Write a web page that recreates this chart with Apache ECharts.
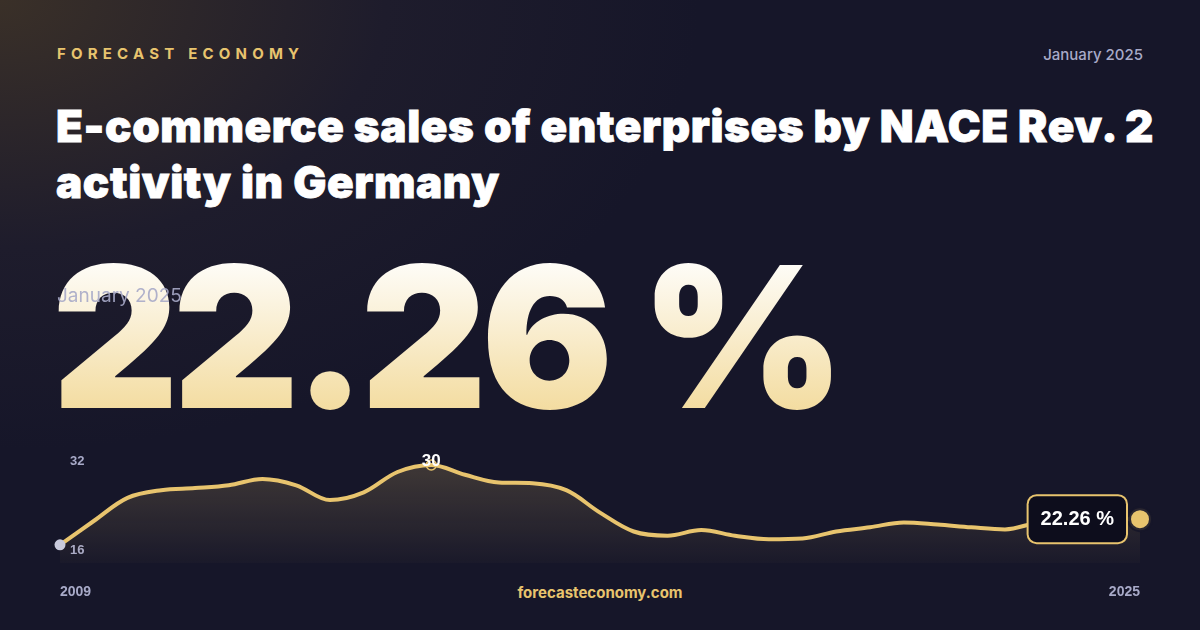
<!doctype html>
<html>
<head>
<meta charset="utf-8">
<title>E-commerce sales Germany</title>
<script src="https://cdn.jsdelivr.net/npm/echarts@6/dist/echarts.min.js"></script>
<style>
    html, body { margin: 0; width: 1200px; height: 630px; overflow: hidden; }
    body {
        font-family: Inter, "Noto Sans", sans-serif;
        background: radial-gradient(ellipse 700px 450px at 0 0, #3a3028 0%, #1e1c2c 55%, #161629 100%), #161629;
        background-color: #161629;
        position: relative;
    }
    .brand { position: absolute; left: 57px; top: 44px; color: #e8c46e; font-size: 15px; font-weight: 700; letter-spacing: 5.2px; }
    .date { position: absolute; right: 57px; top: 45px; color: #a8aac8; font-size: 15px; font-weight: 500; }
    .title { position: absolute; left: 56px; top: 98px; width: 1140px; color: #fff; font-size: 44px; font-weight: 900; line-height: 56px; letter-spacing: 0.6px; -webkit-text-stroke: 0.8px #fff; }
    .big { position: absolute; left: 52px; top: 222px; font-size: 196px; font-weight: 900; letter-spacing: -6px; line-height: 230px;
        background: linear-gradient(180deg, #ffffff 12%, #f3dca0 82%); -webkit-background-clip: text; background-clip: text; color: transparent; }
    .big span { -webkit-text-stroke: 6px #f7e8c0; }
    .sub { position: absolute; left: 57px; top: 284px; color: #a8aac8; font-size: 19px; opacity: 0.9; }
    .site { position: absolute; left: 0; width: 1200px; top: 583px; text-align: center; color: #e8c46e; font-size: 15px; font-weight: 700; }
    #chart { position: absolute; left: 0; top: 0; width: 1200px; height: 630px; }
</style>
</head>
<body>
<div class="brand">FORECAST ECONOMY</div>
<div class="date">January 2025</div>
<div class="title">E-commerce sales of enterprises by NACE Rev. 2 activity in Germany</div>
<div class="big">22.26 %</div>
<div class="sub">January 2025</div>
<div class="site">forecasteconomy.com</div>
<div id="chart"></div>
<script>
    // periods (half-yearly steps 2009 .. 2025)
    var periods = [];
    for (var y = 2009; y <= 2025; y++) { periods.push(y + ' H1'); if (y < 2025) periods.push(y + ' H2'); }
    var values = [18.6, 22.0, 25.3, 26.4, 26.7, 27.1, 28.0, 27.1, 25.0, 26.1, 29.0, 30.0, 28.6, 27.5, 27.4, 26.4,
        23.2, 20.5, 19.9, 20.7, 19.9, 19.4, 19.5, 20.5, 21.1, 21.8, 21.5, 21.1, 20.8, 21.8, 22.1, 22.3, 22.26];
    var yTicks = [16, 32];
    var xLabels = ['2009', '2025'];

    var chart = echarts.init(document.getElementById('chart'), null, {renderer: 'canvas'});
    var last = values.length - 1;
    var maxIdx = values.indexOf(Math.max.apply(null, values));
    var gold = '#e8c46e';

    chart.setOption({
        animation: false,
        grid: {left: 60, right: 60, top: 451, bottom: 67},
        xAxis: {
            type: 'category', data: periods, boundaryGap: false,
            axisLine: {show: false}, axisTick: {show: false}, splitLine: {show: false},
            axisLabel: {
                interval: 0, margin: 22, color: '#a8aac8', fontSize: 14, fontWeight: 700,
                formatter: function (v, i) { return i === 0 ? xLabels[0] : (i === last ? xLabels[1] : ''); },
                alignMinLabel: 'left', alignMaxLabel: 'right'
            }
        },
        yAxis: {
            type: 'value', min: yTicks[0], max: yTicks[1], interval: 16,
            axisLine: {show: false}, axisTick: {show: false}, splitLine: {show: false},
            axisLabel: {
                inside: true, margin: 10, color: '#a8aac8', fontSize: 13, fontWeight: 700,
                formatter: function (v) { return v === yTicks[1] ? '{t|' + v + '}' : '{b|' + v + '}'; },
                rich: {t: {padding: [20, 0, 0, 0]}, b: {padding: [0, 0, 26, 0]}}
            }
        },
        series: [{
            type: 'line', data: values, smooth: 0.35, showSymbol: false,
            lineStyle: {color: gold, width: 4},
            areaStyle: {
                color: new echarts.graphic.LinearGradient(0, 0, 0, 1, [
                    {offset: 0, color: 'rgba(232,196,110,0.28)'},
                    {offset: 1, color: 'rgba(232,196,110,0.03)'}
                ])
            },
            markPoint: {
                data: [
                    {coord: [0, values[0]], symbol: 'circle', symbolSize: 11,
                        itemStyle: {color: '#c8cadc'}, label: {show: false}},
                    {coord: [maxIdx, values[maxIdx]], symbol: 'circle', symbolSize: 10,
                        itemStyle: {color: 'transparent', borderColor: gold, borderWidth: 1.5},
                        label: {show: true, formatter: String(Math.round(values[maxIdx])), position: 'inside',
                            color: '#fff', fontSize: 17, fontWeight: 900, offset: [0, -4]}},
                    {coord: [last, values[last]], symbol: 'circle', symbolSize: 22,
                        itemStyle: {color: gold, borderColor: 'rgba(22,22,41,0.9)', borderWidth: 4},
                        label: {show: true, position: 'left', distance: 1,
                            formatter: values[last].toFixed(2) + ' %', color: '#fff', fontSize: 20, fontWeight: 900,
                            backgroundColor: '#0d0d1c', borderColor: gold, borderWidth: 2, borderRadius: 8,
                            padding: [13, 12, 13, 12]}}
                ]
            }
        }]
    });
</script>
</body>
</html>
